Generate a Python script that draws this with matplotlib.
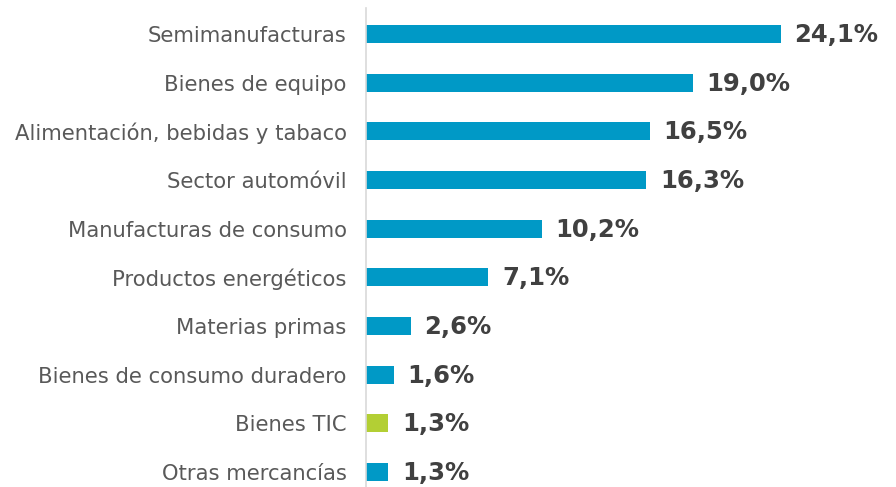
import matplotlib.pyplot as plt

plt.rcParams['font.family'] = ['DejaVu Sans']

categories = ["Semimanufacturas", "Bienes de equipo", "Alimentación, bebidas y tabaco",
              "Sector automóvil", "Manufacturas de consumo", "Productos energéticos",
              "Materias primas", "Bienes de consumo duradero", "Bienes TIC", "Otras mercancías"]
values = [24.1, 19.0, 16.5, 16.3, 10.2, 7.1, 2.6, 1.6, 1.3, 1.3]
highlight = "Bienes TIC"

blue = "#0099C6"
green = "#B3CF34"

fig = plt.figure(figsize=(8.96, 4.87), dpi=100)
ax = fig.add_axes([366 / 896, 0, 1 - 366 / 896, 479 / 487])

ypos = list(range(len(categories)))
colors = [green if c == highlight else blue for c in categories]
ax.barh(ypos, values, height=0.37, color=colors)

for y, v in zip(ypos, values):
    ax.text(v + 0.8, y + 0.02, f"{v:.1f}%".replace(".", ","), va="center", ha="left",
            fontsize=17.5, fontweight="bold", color="#404040")

ax.set_yticks(ypos)
ax.set_yticklabels(categories, fontsize=15.2, color="#595959")
ax.tick_params(axis="y", length=0, pad=14)
ax.set_xticks([])
ax.set_xlim(0, 30.8)
ax.set_ylim(9.31, -0.534)

for s in ["top", "right", "bottom"]:
    ax.spines[s].set_visible(False)
ax.spines["left"].set_color("#D9D9D9")
ax.spines["left"].set_linewidth(1.2)

fig.savefig("out.png", dpi=100)
